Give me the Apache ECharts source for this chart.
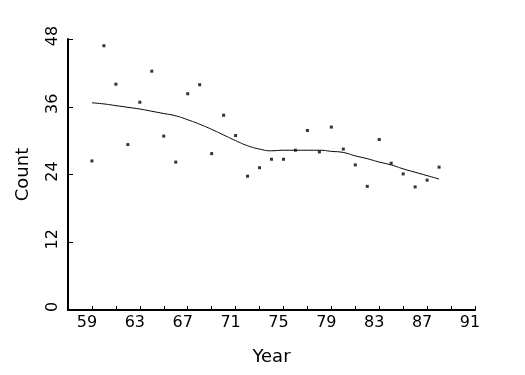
<!DOCTYPE html>
<html>
<head>
<meta charset="utf-8">
<script src="https://cdn.jsdelivr.net/npm/echarts@6/dist/echarts.min.js"></script>
<style>html,body{margin:0;padding:0;background:#fff}#c{width:525px;height:375px}</style>
</head>
<body>
<div id="c"></div>
<script>
var years = [59,60,61,62,63,64,65,66,67,68,69,70,71,72,73,74,75,76,77,78,79,80,81,82,83,84,85,86,87,88];
var counts = [26.4,46.8,40.0,29.3,36.8,42.3,30.8,26.2,38.3,39.9,27.7,34.5,30.9,23.7,25.2,26.7,26.7,28.3,31.8,28.0,32.4,28.5,25.7,21.9,30.2,26.0,24.1,21.8,23.0,25.3];
var smooth = [36.7,36.5,36.2,35.9,35.6,35.2,34.8,34.4,33.7,32.9,32.0,31.0,30.0,29.1,28.5,28.2,28.3,28.3,28.3,28.3,28.1,27.9,27.3,26.8,26.2,25.7,25.0,24.4,23.8,23.2];
var xLabels = [59,63,67,71,75,79,83,87,91];
var yLabels = [0,12,24,36,48];

var FONT = 'DejaVu Sans';
var W = 'normal';
var chart = echarts.init(document.getElementById('c'), null, {renderer: 'canvas'});
chart.setOption({
  backgroundColor: '#fff',
  animation: false,
  grid: {left: 68, right: 50, top: 39, bottom: 65},
  xAxis: {
    type: 'value', min: 57, max: 91, interval: 2,
    name: 'Year', nameLocation: 'middle', nameGap: 38,
    nameTextStyle: {fontFamily: FONT, fontSize: 18, fontWeight: W, color: '#000'},
    axisLine: {show: true, lineStyle: {color: '#000', width: 2}},
    axisTick: {show: true, inside: true, length: 4, lineStyle: {color: '#000', width: 1}},
    splitLine: {show: false},
    axisLabel: {
      margin: 5, color: '#000', fontFamily: FONT, fontSize: 16, fontWeight: W,
      formatter: function (v) { return xLabels.indexOf(v) >= 0 ? '{a|' + v + '}' : ''; },
      rich: {a: {fontFamily: FONT, fontSize: 16, fontWeight: W, color: '#000', padding: [0, 10, 0, 0]}}
    }
  },
  yAxis: {
    type: 'value', min: 0, max: 48, interval: 12,
    name: 'Count', nameLocation: 'middle', nameGap: 36, nameRotate: 90,
    nameTextStyle: {fontFamily: FONT, fontSize: 18, fontWeight: W, color: '#000'},
    axisLine: {show: true, lineStyle: {color: '#000', width: 2}},
    axisTick: {show: true, inside: true, length: 5, lineStyle: {color: '#000', width: 1}},
    splitLine: {show: false},
    axisLabel: {
      margin: 7, rotate: 90, color: '#000', fontFamily: FONT, fontSize: 16, fontWeight: W,
      formatter: function (v) { return yLabels.indexOf(v) >= 0 ? '{a|' + v + '}' : ''; },
      rich: {a: {fontFamily: FONT, fontSize: 16, fontWeight: W, color: '#000', padding: [0, 0, 0, 6]}}
    }
  },
  series: [
    {
      type: 'scatter', symbol: 'rect', symbolSize: 3,
      itemStyle: {color: '#000'},
      data: years.map(function (y, i) { return [y, counts[i]]; })
    },
    {
      type: 'line', smooth: true, showSymbol: false,
      lineStyle: {color: '#000', width: 1},
      data: years.map(function (y, i) { return [y, smooth[i]]; })
    }
  ]
});
</script>
</body>
</html>
